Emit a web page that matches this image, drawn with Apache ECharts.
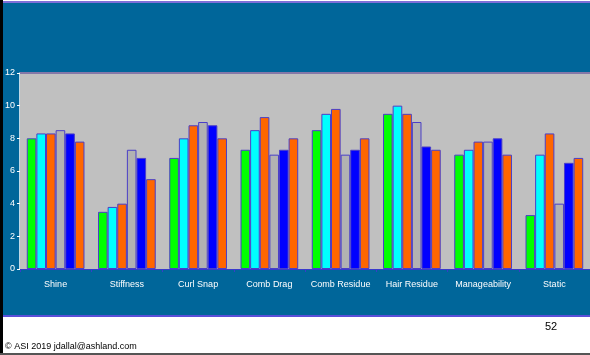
<!DOCTYPE html>
<html>
<head>
<meta charset="utf-8">
<script src="https://cdn.jsdelivr.net/npm/echarts@6/dist/echarts.min.js"></script>
<style>
  html, body { margin: 0; padding: 0; background: #fff; }
  #chart { width: 590px; height: 355px; }
</style>
</head>
<body>
<div id="chart"></div>
<script>
// categories and six product series
var categories = ['Shine', 'Stiffness', 'Curl Snap', 'Comb Drag', 'Comb Residue', 'Hair Residue', 'Manageability', 'Static']
var yTicks = [0, 2, 4, 6, 8, 10, 12]

var s1 = [8.0, 3.5, 6.8, 7.3, 8.5, 9.5, 7.0, 3.3]
var s2 = [8.3, 3.8, 8.0, 8.5, 9.5, 10.0, 7.3, 7.0]
var s3 = [8.3, 4.0, 8.8, 9.3, 9.8, 9.5, 7.8, 8.3]
var s4 = [8.5, 7.3, 9.0, 7.0, 7.0, 9.0, 7.8, 4.0]
var s5 = [8.3, 6.8, 8.8, 7.3, 7.3, 7.5, 8.0, 6.5]
var s6 = [7.8, 5.5, 8.0, 8.0, 8.0, 7.3, 7.0, 6.8]

var seriesData = [s1, s2, s3, s4, s5, s6]
var seriesNames = ['1', '2', '3', '4', '5', '6']
var colors = ['#00ff00', '#00ffff', '#ff6600', '#b2b2b2', '#0000ff', '#ff6600']

var chart = echarts.init(document.getElementById('chart'), null, { renderer: 'canvas' })

var series = seriesData.map(function (d, i) {
  return {
    name: seriesNames[i],
    type: 'bar',
    data: d,
    barGap: '0%',
    barCategoryGap: '19%',
    itemStyle: {
      color: colors[i],
      borderColor: '#4a3fc8',
      borderWidth: 1
    },
    silent: true
  }
})

var option = {
  backgroundColor: '#ffffff',
  animation: false,
  grid: {
    left: 20,
    right: -3,
    top: 73,
    bottom: 86,
    show: true,
    backgroundColor: '#c0c0c0',
    borderWidth: 0,
    z: 1
  },
  xAxis: {
    type: 'category',
    data: categories,
    axisLine: { lineStyle: { color: '#3a3acc', width: 1 } },
    axisTick: { show: true, length: 3, lineStyle: { color: '#3a3acc' } },
    axisLabel: {
      color: '#ffffff',
      fontSize: 9,
      fontFamily: 'Liberation Sans, Arial',
      margin: 11,
      interval: 0
    }
  },
  yAxis: {
    type: 'value',
    min: 0,
    max: 12,
    interval: 2,
    axisLine: { show: true, lineStyle: { color: '#ffffff', width: 1.5 } },
    axisTick: { show: true, length: 3, lineStyle: { color: '#ffffff' } },
    axisLabel: {
      color: '#ffffff',
      fontSize: 9,
      fontFamily: 'Liberation Sans, Arial',
      margin: 5,
      formatter: function (v) { return yTicks.indexOf(v) >= 0 ? String(v) : '' }
    },
    splitLine: { show: true, lineStyle: { color: '#3f3fcc', width: 1 } }
  },
  graphic: [
    // blue slide band
    { type: 'rect', z: -10, shape: { x: 0, y: 2, width: 590, height: 315 }, style: { fill: '#00669a' } },
    { type: 'rect', z: -9, shape: { x: 0, y: 1, width: 590, height: 2 }, style: { fill: '#7f6fd8' } },
    { type: 'rect', z: -9, shape: { x: 0, y: 315, width: 590, height: 2 }, style: { fill: '#5a4fd8' } },
    // top edge of plot
    { type: 'rect', z: 5, shape: { x: 20, y: 72, width: 570, height: 2 }, style: { fill: '#8478a8' } },
    // frame
    { type: 'rect', z: 20, shape: { x: 0, y: 0, width: 3, height: 355 }, style: { fill: '#000000' } },
    { type: 'rect', z: 20, shape: { x: 0, y: 353, width: 590, height: 2 }, style: { fill: '#555555' } },
    {
      type: 'text', z: 20, left: 545, top: 321,
      style: { text: '52', fill: '#000', font: '11px Liberation Sans, Arial' }
    },
    {
      type: 'text', z: 20, left: 5, top: 342,
      style: { text: '© ASI 2019 jdallal@ashland.com', fill: '#000', font: '9px Liberation Sans, Arial' }
    }
  ],
  series: series
}

chart.setOption(option)
</script>
</body>
</html>
